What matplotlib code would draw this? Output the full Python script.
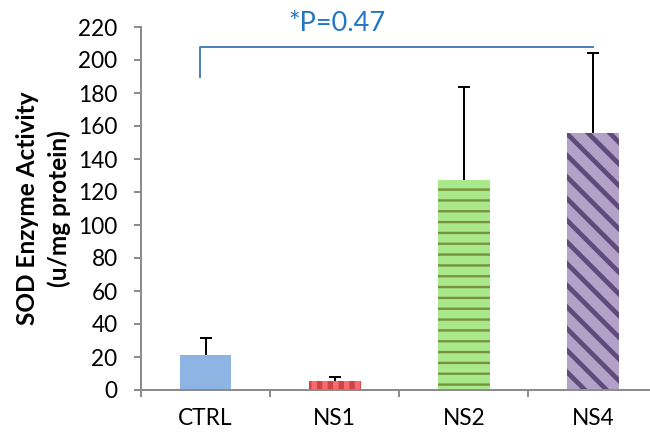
"""SOD enzyme activity bar chart"""

import matplotlib.pyplot as plt
import numpy as np

# data
groups = ["CTRL", "NS1", "NS2", "NS4"]
sod = np.array([21, 5.5, 127, 156])
sod_err = np.array([10.5, 2.5, 56.5, 48])
p_text = "*P=0.47"

# styling per bar
fills = ["#8DB4E2", "#FF6B6B", "#A9E88B", "#B3A2C7"]
hatch_cols = ["#8DB4E2", "#C9454A", "#76933C", "#5F4A7C"]
hatches = [None, "||", "--", "\\\\"]
hatch_lw = [0, 3.0, 1.3, 2.6]

plt.rcParams['font.family'] = ['Lato', 'DejaVu Sans']

fig = plt.figure(figsize=(5, 434/130.), dpi=130)
ax = fig.add_axes([141/650., 1-390/434., 516.5/650., 363/434.])

x = np.arange(len(groups))
for i in range(len(groups)):
    with plt.rc_context({'hatch.linewidth': hatch_lw[i]}):
        ax.bar(x[i], sod[i], width=0.40, color=fills[i],
               edgecolor=hatch_cols[i], linewidth=0, hatch=hatches[i], zorder=2)

# upper error bars only
ax.vlines(x, sod, sod + sod_err, color='k', linewidth=1.1, zorder=3)
ax.plot(x, sod + sod_err, ls='none', marker='_', markersize=6.6,
        markeredgewidth=1.1, color='k', zorder=3)

# significance bracket
ax.plot([x[0]-0.04, x[0]-0.04, x[3]], [190, 208, 208], color='#4F81BD',
        linewidth=1.1, clip_on=False, zorder=4)
ax.text(1.02, 222, p_text, color='#2277C4', fontsize=15,
        ha='center', va='center', clip_on=False)

# axes
ax.set_xlim(-0.5, 3.5)
ax.set_ylim(0, 220)
ax.set_yticks(np.arange(0, 221, 20))
ax.set_xticks(x)
ax.set_xticklabels(groups)
ax.set_xticks(np.arange(-0.5, 4, 1), minor=True)
ax.tick_params(axis='x', which='major', length=0, pad=10, labelsize=12.5)
ax.tick_params(axis='x', which='minor', length=4, width=1.1, color='#8C8C8C', direction='out')
ax.tick_params(axis='y', length=4, width=1.1, color='#8C8C8C', pad=9, labelsize=12.5)

for s in ['top', 'right']:
    ax.spines[s].set_visible(False)
for s in ['left', 'bottom']:
    ax.spines[s].set_color('#8C8C8C')
    ax.spines[s].set_linewidth(1.1)

ax.set_ylabel("SOD Enzyme Activity\n(u/mg protein)", fontsize=13.5,
              fontweight='bold', labelpad=4, linespacing=1.45)

plt.savefig("out.png", dpi=130)
